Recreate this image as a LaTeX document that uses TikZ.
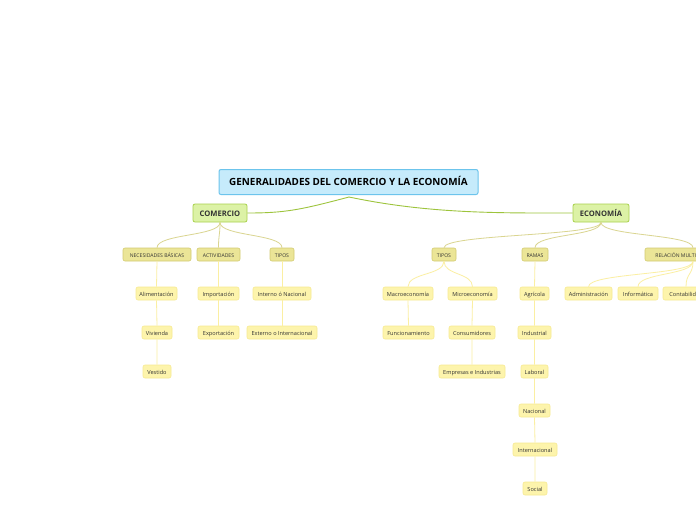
\documentclass[tikz,border=0pt]{standalone}
\usepackage{fontspec}
\setmainfont{Open Sans}
\usetikzlibrary{calc}
\definecolor{titleF}{HTML}{C6EBFB}
\definecolor{titleB}{HTML}{6CC4EC}
\definecolor{mainF}{HTML}{DCF2A6}
\definecolor{mainB}{HTML}{A9D14E}
\definecolor{subF}{HTML}{EBE597}
\definecolor{subB}{HTML}{D3CB72}
\definecolor{leafF}{HTML}{FDF4AC}
\definecolor{leafB}{HTML}{F7EA92}
\definecolor{lnA}{HTML}{9DC43C}
\definecolor{lnB}{HTML}{DAD590}
\definecolor{lnC}{HTML}{FBEFA2}
\definecolor{txt}{HTML}{333333}
\begin{document}
\begin{tikzpicture}[x=1pt,y=-1pt,
  box/.style={rounded corners=2pt, inner sep=0pt, text=txt, anchor=center, text height=1.55ex, text depth=0.35ex},
  titlebox/.style={box, fill=titleF, draw=titleB, line width=1pt, minimum height=25pt, font=\fontsize{9.9}{11}\selectfont\bfseries, text=black},
  mainbox/.style={box, fill=mainF, draw=mainB, line width=0.8pt, minimum height=18pt, font=\fontsize{7.6}{9}\selectfont\bfseries},
  subbox/.style={box, fill=subF, draw=subB, line width=0.6pt, minimum height=13pt, font=\fontsize{5.1}{6}\selectfont},
  leafbox/.style={box, fill=leafF, draw=leafB, line width=0.6pt, minimum height=13pt, font=\fontsize{5.6}{7}\selectfont},
  la/.style={draw=lnA, line width=0.9pt},
  lb/.style={draw=lnB, line width=0.8pt},
  lc/.style={draw=lnC, line width=0.8pt}
]
\useasboundingbox (0,0) rectangle (696,520);
\fill[white] (0,0) rectangle (696,520);
\clip (0,0) rectangle (696,520);

% title and main
\node[titlebox, minimum width=259pt] (T) at (348.5,182) {GENERALIDADES DEL COMERCIO Y LA ECONOMÍA};
\coordinate (Tb) at (349,197);
\node[mainbox, minimum width=54pt] (C) at (220,213) {COMERCIO};
\node[mainbox, minimum width=56pt] (E) at (601,213) {ECONOMÍA};

% comercio level 2
\node[subbox, minimum width=68pt] (NB) at (157,254.5) {NECESIDADES BÁSICAS};
\node[subbox, minimum width=43pt] (AC) at (218.5,254.5) {ACTIVIDADES};
\node[subbox, minimum width=24pt] (TC) at (282,254.5) {TIPOS};
% comercio level 3
\node[leafbox, minimum width=41pt] (AL) at (156.5,293.5) {Alimentación};
\node[leafbox, minimum width=30pt] (VI) at (157,332.5) {Vivienda};
\node[leafbox, minimum width=28pt] (VE) at (157,371.5) {Vestido};
\node[leafbox, minimum width=41pt] (IM) at (218.5,293.5) {Importación};
\node[leafbox, minimum width=41pt] (EX) at (218.5,332.5) {Exportación};
\node[leafbox, minimum width=58pt] (IN) at (282,293.5) {Interno ó Nacional};
\node[leafbox, minimum width=70pt] (EI) at (282,332.5) {Externo o Internacional};

% economia level 2
\node[subbox, minimum width=24pt] (TE) at (444,254.5) {TIPOS};
\node[subbox, minimum width=26pt] (RA) at (535,254.5) {RAMAS};
\node[subbox, minimum width=96pt] (RM) at (693,254.5) {RELACIÓN MULTIDISCIPLINARIA};
% economia level 3
\node[leafbox, minimum width=50pt] (MA) at (408,293.5) {Macroeconomía};
\node[leafbox, minimum width=49pt] (MI) at (472.5,293.5) {Microeconomía};
\node[leafbox, minimum width=51pt] (FU) at (408.5,332.5) {Funcionamiento};
\node[leafbox, minimum width=46pt] (CO) at (472,332.5) {Consumidores};
\node[leafbox, minimum width=66pt] (EM) at (472,371.5) {Empresas e Industrias};
\node[leafbox, minimum width=29pt] (AG) at (534.5,293.5) {Agrícola};
\node[leafbox, minimum width=33pt] (ID) at (534.5,332.5) {Industrial};
\node[leafbox, minimum width=27pt] (LA) at (534.5,371.5) {Laboral};
\node[leafbox, minimum width=31pt] (NA) at (534.5,410.5) {Nacional};
\node[leafbox, minimum width=44pt] (IT) at (535,449.5) {Internacional};
\node[leafbox, minimum width=24pt] (SO) at (535,488.5) {Social};
\node[leafbox, minimum width=47pt] (AD) at (588.5,293.5) {Administración};
\node[leafbox, minimum width=40pt] (IF) at (638,293.5) {Informática};
\node[leafbox, minimum width=46pt] (CB) at (686,293.5) {Contabilidad};

% connectors
\path[la] (Tb) .. controls (300,210) and (285,213) .. (C.east);
\path[la] (Tb) .. controls (430,214) and (500,213) .. (E.west);

\foreach \c in {NB,AC,TC}{\path[lb] (C.south) .. controls ($(C.south)+(0,14)$) and ($(\c.north)+(0,-14)$) .. (\c.north);}
\foreach \c in {TE,RA,RM}{\path[lb] (E.south) .. controls ($(E.south)+(0,14)$) and ($(\c.north)+(0,-14)$) .. (\c.north);}

\path[lc] (NB.south) -- (AL.north) (AL.south) -- (VI.north) (VI.south) -- (VE.north);
\path[lc] (AC.south) -- (IM.north) (IM.south) -- (EX.north);
\path[lc] (TC.south) -- (IN.north) (IN.south) -- (EI.north);
\foreach \c in {MA,MI}{\path[lc] (TE.south) .. controls ($(TE.south)+(0,14)$) and ($(\c.north)+(0,-14)$) .. (\c.north);}
\path[lc] (MA.south) -- (FU.north);
\path[lc] (MI.south) -- (CO.north) (CO.south) -- (EM.north);
\path[lc] (RA.south) -- (AG.north) (AG.south) -- (ID.north) (ID.south) -- (LA.north) (LA.south) -- (NA.north) (NA.south) -- (IT.north) (IT.south) -- (SO.north);
\foreach \c in {AD,IF,CB}{\path[lc] (RM.south) .. controls ($(RM.south)+(0,14)$) and ($(\c.north)+(0,-14)$) .. (\c.north);}
\end{tikzpicture}
\end{document}
